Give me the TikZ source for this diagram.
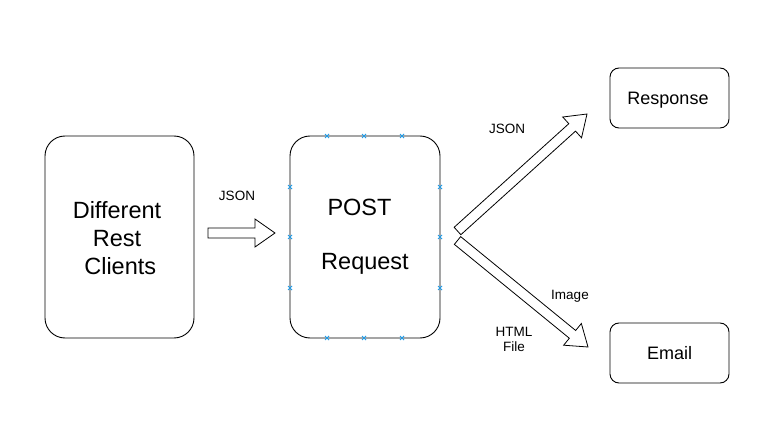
\documentclass[tikz,border=0pt]{standalone}
\usepackage{fontspec}
\setmainfont{Liberation Sans}
\usetikzlibrary{calc}
\definecolor{mk}{HTML}{1E9BE8}
\tikzset{
  box/.style={draw=black, line width=0.9pt, rounded corners=#1},
  box/.default=20pt,
  lbl/.style={font=\fontsize{13.5}{15}\selectfont, inner sep=0pt, align=center},
  big/.style={font=\fontsize{23.5}{28}\selectfont, inner sep=0pt, align=center},
  mid/.style={font=\fontsize{18}{21}\selectfont, inner sep=0pt},
  arr/.style={draw=black, fill=white, line width=0.8pt, line join=miter}
}
\newcommand\blockarr[3]{%
  \coordinate (#3h) at ($(#2)!20pt!(#1)$);
  \draw[arr] ($(#1)!5pt!90:(#2)$) -- ($(#3h)!5pt!90:(#2)$) -- ($(#3h)!14pt!90:(#2)$)
    -- (#2) -- ($(#3h)!14pt!-90:(#2)$) -- ($(#3h)!5pt!-90:(#2)$) -- ($(#1)!5pt!-90:(#2)$) -- cycle;
}
\newcommand\xmark[1]{%
  \draw[mk, line width=0.8pt] ($(#1)+(-2pt,-2pt)$) -- ($(#1)+(2pt,2pt)$)
    ($(#1)+(-2pt,2pt)$) -- ($(#1)+(2pt,-2pt)$);
}
\begin{document}
\begin{tikzpicture}[x=1pt, y=-1pt]
\useasboundingbox (0,0) rectangle (777,433);
% boxes
\draw[box] (45,136) rectangle (194,338);
\node[inner sep=0pt] (clients) at (119.5,237) {};
\draw[box] (290,136) rectangle (440,338);
\node[inner sep=0pt] (post) at (365,237) {};
\draw[box=9pt] (610,68) rectangle (729,128);
\node[mid] (resp) at (668,100) {Response};
\draw[box=9pt] (610,323) rectangle (729,383);
\node[mid] (email) at (669.5,353) {Email};
% texts
\node[big] (t1) at (117,238) {Different\\Rest\\\ Clients};
\node[big] (t2) at (359.5,207) {POST};
\node[big] (t3) at (365,264) {Request};
% markers
\foreach \x in {327,364,402}{\coordinate (m) at (\x,136); \xmark{m} \coordinate (m) at (\x,338); \xmark{m}}
\foreach \y in {187,237,288}{\coordinate (m) at (290,\y); \xmark{m} \coordinate (m) at (440,\y); \xmark{m}}
% arrows
\coordinate (a1s) at (208,233);
\coordinate (a1e) at (275,233);
\blockarr{a1s}{a1e}{a1}
\coordinate (a2s) at (457.5,231);
\coordinate (a2e) at (587,114);
\blockarr{a2s}{a2e}{a2}
\coordinate (a3s) at (457.5,240.5);
\coordinate (a3e) at (588,347);
\blockarr{a3s}{a3e}{a3}
% labels
\node[lbl] (l1) at (237,196) {JSON};
\node[lbl] (l2) at (507,129) {JSON};
\node[lbl] (l3) at (570,296) {Image};
\node[lbl] (l4) at (514,339) {HTML\\File};
\end{tikzpicture}
\end{document}
